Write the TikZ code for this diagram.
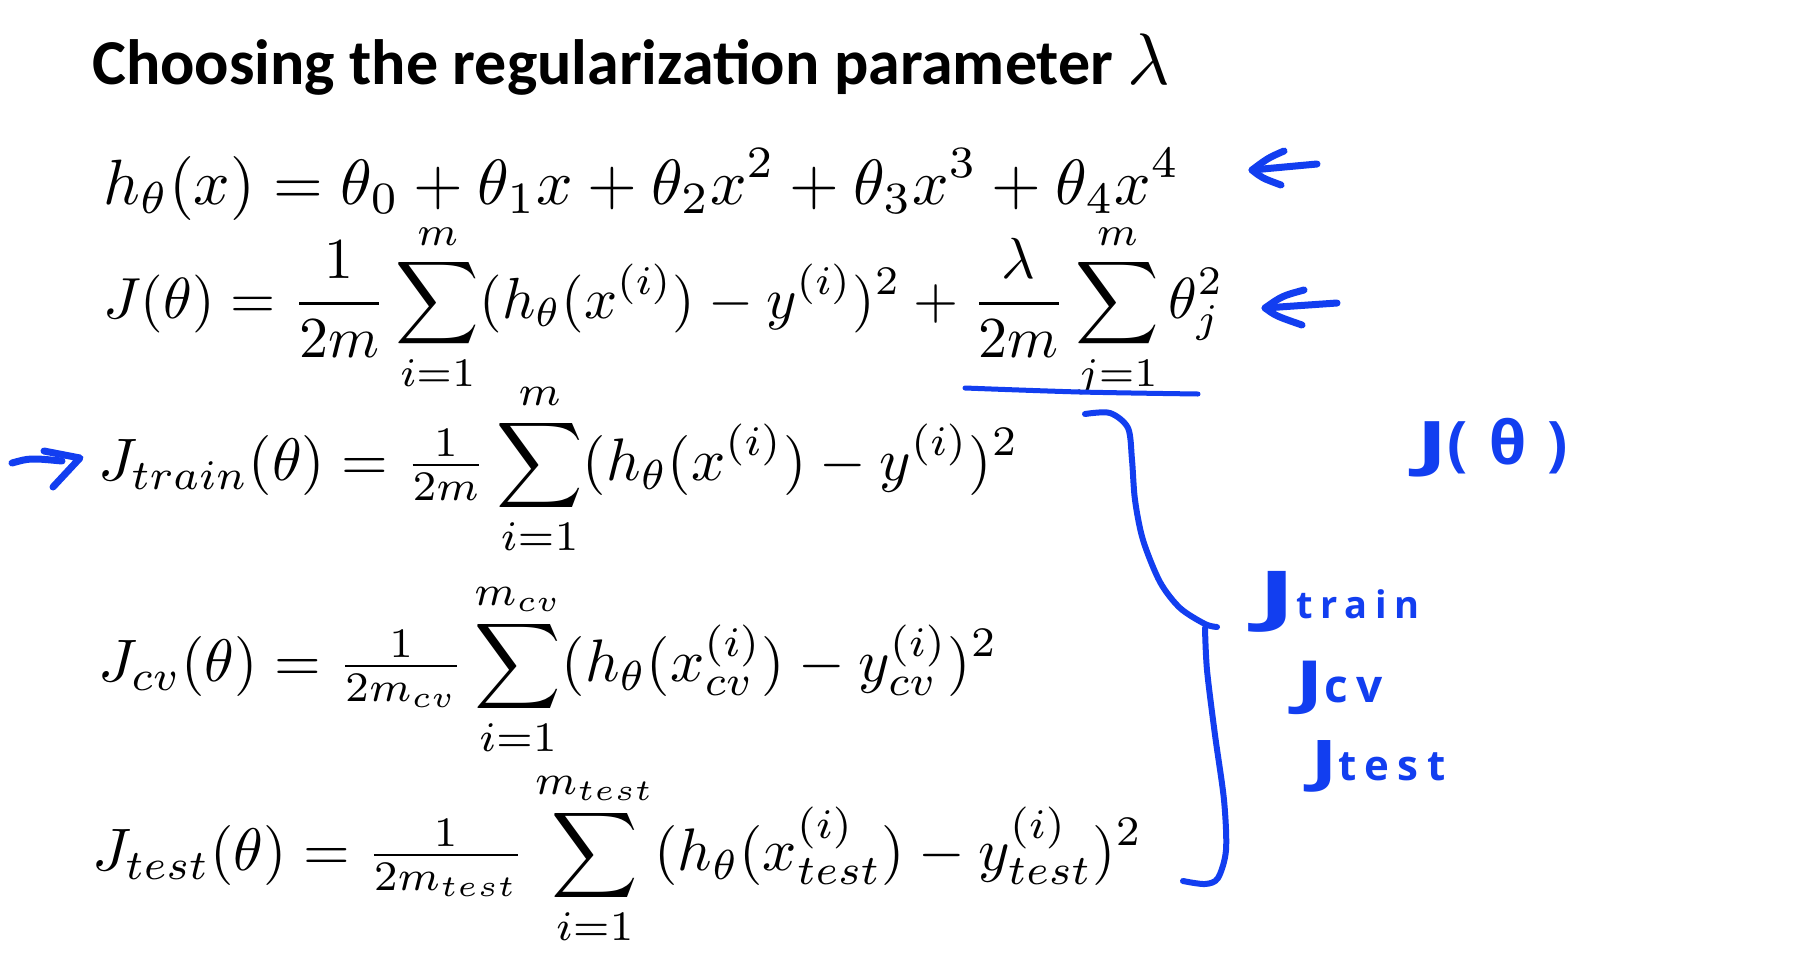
\documentclass[tikz,border=0pt]{standalone}
\usepackage{amsmath}
\usepackage{fontspec}
\usepackage{graphicx}
\newfontfamily\titlefont{Carlito}
\newfontfamily\handfont[LetterSpace=20]{Open Sans}
\definecolor{hand}{RGB}{18,62,240}
\newcommand{\eqn}[2]{\scalebox{#1}{$\displaystyle #2$}}
\begin{document}
\begin{tikzpicture}[x=1pt,y=-1pt,
  eq/.style={anchor=base west,inner sep=0pt},
  ink/.style={draw=hand,line width=7pt,line cap=round,line join=round},
  handtxt/.style={text=hand,inner sep=0pt,anchor=base west}]
\useasboundingbox[fill=white] (0,0) rectangle (1800,970);

\node[eq,font=\titlefont\bfseries\fontsize{64}{64}\selectfont] (title) at (92,84)
  {Choosing the regularization parameter {\normalsize\scalebox{7.3}{$\lambda$}}};

\node[eq] (e1) at (103,204) {\eqn{6.4}{h_\theta(x) = \theta_0 + \theta_1 x + \theta_2 x^2 + \theta_3 x^3 + \theta_4 x^4}};
\node[eq] (e2) at (103,318) {\eqn{5.8}{J(\theta) = \frac{1}{2m}\sum_{i=1}^{m}(h_\theta(x^{(i)}) - y^{(i)})^2 + \frac{\lambda}{2m}\sum_{j=1}^{m}\theta_j^2}};
\node[eq] (e3) at (98,480) {\eqn{6.0}{J_{train}(\theta) = \tfrac{1}{2m}\sum_{i=1}^{m}(h_\theta(x^{(i)}) - y^{(i)})^2}};
\node[eq] (e4) at (98,681) {\eqn{6.0}{J_{cv}(\theta) = \tfrac{1}{2m_{cv}}\sum_{i=1}^{m_{cv}}(h_\theta(x_{cv}^{(i)}) - y_{cv}^{(i)})^2}};
\node[eq] (e5) at (92,870) {\eqn{6.0}{J_{test}(\theta) = \tfrac{1}{2m_{test}}\sum_{i=1}^{m_{test}}(h_\theta(x_{test}^{(i)}) - y_{test}^{(i)})^2}};

% handwritten labels
\node[handtxt,font=\handfont\bfseries\fontsize{60}{60}\selectfont\addfontfeature{LetterSpace=35}] (jt) at (1416,464) {\scalebox{1.6}[1]{J}(θ)};
\node[handtxt] (jtr) at (1257,618) {\handfont\bfseries\fontsize{66}{66}\selectfont\scalebox{1.8}[1]{J}\fontsize{38}{38}\selectfont train};
\node[handtxt] (jcv) at (1295,702) {\handfont\bfseries\fontsize{58}{58}\selectfont\scalebox{1.5}[1]{J}\fontsize{46}{46}\selectfont cv};
\node[handtxt] (jte) at (1310,780) {\handfont\bfseries\fontsize{56}{56}\selectfont\scalebox{1.5}[1]{J}\fontsize{42}{42}\selectfont test};

% arrow 1
\coordinate (a1e) at (1317,164);
\coordinate (a1t) at (1252,170);
\coordinate (a1u) at (1284,151);
\coordinate (a1l) at (1281,185);
\draw[ink] (a1e) -- (a1t);
\draw[ink] (a1u) .. controls (1268,158) .. (a1t) .. controls (1262,178) .. (a1l);
% arrow 2
\coordinate (a2e) at (1337,303);
\coordinate (a2t) at (1265,308);
\coordinate (a2u) at (1304,290);
\coordinate (a2l) at (1302,325);
\draw[ink] (a2e) -- (a2t);
\draw[ink] (a2u) .. controls (1282,296) .. (a2t) .. controls (1276,316) .. (a2l);
% arrow 3 (left)
\coordinate (a3s) at (12,463);
\coordinate (a3m) at (62,461);
\coordinate (a3u) at (44,451);
\coordinate (a3t) at (80,458);
\coordinate (a3l) at (53,487);
\draw[ink] (a3s) .. controls (30,458) .. (a3m);
\draw[ink] (a3u) -- (a3t) -- (a3l);

% underline of regularization term
\draw[ink,line width=5pt] plot[smooth] coordinates {(965,388) (1080,392) (1198,394)};

% brace
\draw[ink,line width=6pt] plot[smooth] coordinates {(1085,414) (1110,413) (1128,428) (1132,460) (1135,500) (1143,540) (1160,582) (1180,608) (1205,624) (1217,627)};
\draw[ink,line width=6pt] plot[smooth] coordinates {(1205,628) (1207,670) (1215,735) (1224,800) (1226,850) (1218,878) (1205,884) (1183,881)};
\end{tikzpicture}
\end{document}
